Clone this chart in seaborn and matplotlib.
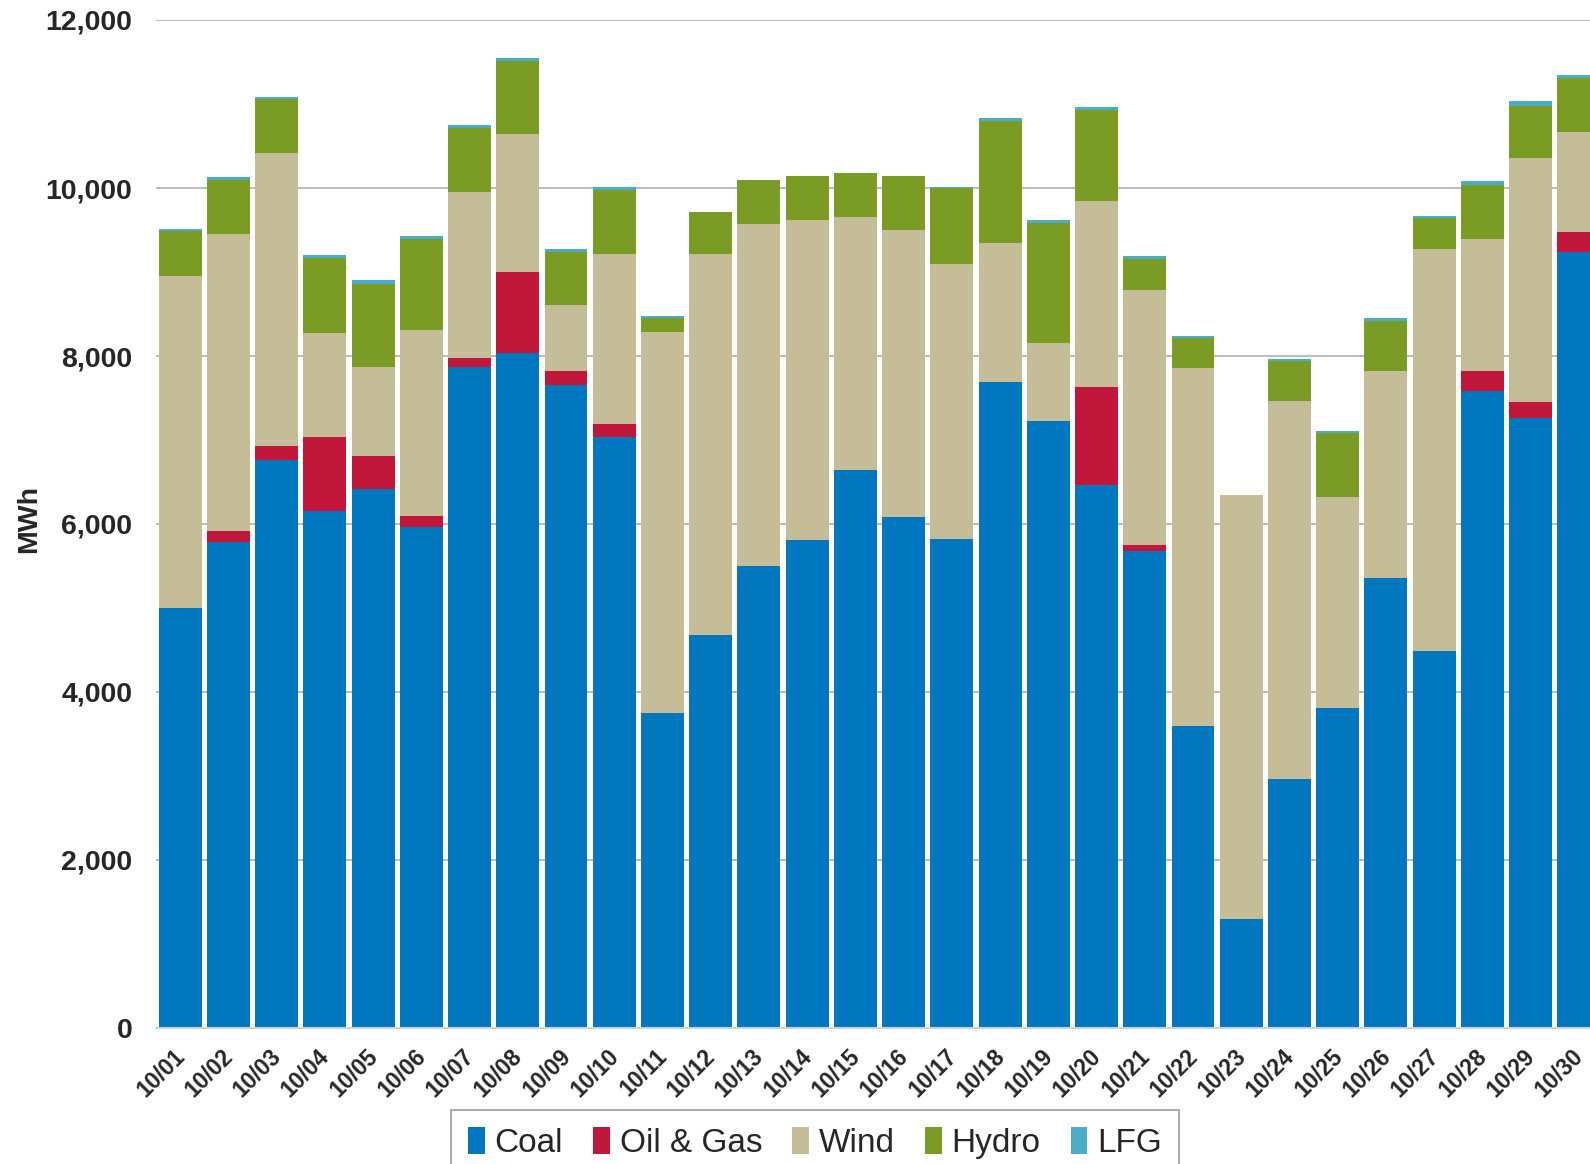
import matplotlib
matplotlib.use("Agg")
import numpy as np
import pandas as pd
import matplotlib.pyplot as plt
import matplotlib.transforms as mtransforms
import seaborn as sns
from matplotlib.patches import Patch
from matplotlib.ticker import MultipleLocator, FuncFormatter

# daily generation by fuel, MWh
days = ["10/01", "10/02", "10/03", "10/04", "10/05", "10/06", "10/07", "10/08",
        "10/09", "10/10", "10/11", "10/12", "10/13", "10/14", "10/15", "10/16",
        "10/17", "10/18", "10/19", "10/20", "10/21", "10/22", "10/23", "10/24",
        "10/25", "10/26", "10/27", "10/28", "10/29", "10/30"]
coal = [5000, 5790, 6760, 6160, 6420, 5960, 7875, 8040, 7650, 7040,
        3750, 4680, 5500, 5810, 6640, 6080, 5820, 7685, 7225, 6460,
        5675, 3600, 1300, 2970, 3815, 5360, 4490, 7585, 7260, 9240]
oil_gas = [0, 125, 170, 880, 390, 135, 105, 960, 170, 150,
           0, 0, 0, 0, 0, 0, 0, 0, 0, 1170,
           80, 0, 0, 0, 0, 0, 0, 238, 190, 235]
wind = [3950, 3535, 3490, 1230, 1060, 2210, 1975, 1640, 790, 2030,
        4535, 4540, 4070, 3810, 3015, 3420, 3270, 1660, 925, 2210,
        3025, 4255, 5040, 4495, 2510, 2460, 4785, 1570, 2905, 1190]
hydro = [540, 640, 640, 900, 990, 1090, 760, 870, 625, 760,
         170, 495, 520, 520, 520, 640, 905, 1450, 1435, 1090,
         375, 365, 0, 480, 755, 600, 373, 643, 627, 640]
lfg = [20, 36, 25, 35, 40, 35, 35, 35, 35, 35,
       20, 0, 0, 0, 0, 0, 20, 35, 35, 35,
       35, 20, 0, 20, 28, 35, 20, 48, 56, 40]

fuels = ["Coal", "Oil & Gas", "Wind", "Hydro", "LFG"]
colors = ["#0077BF", "#C0173B", "#C4BD97", "#7A9B24", "#4BACC6"]

df = pd.DataFrame({"Day": days, "Coal": coal, "Oil & Gas": oil_gas,
                   "Wind": wind, "Hydro": hydro, "LFG": lfg})
cum = df[fuels].cumsum(axis=1)

sns.set_style("white")
plt.rcParams["font.family"] = ["Liberation Sans", "DejaVu Sans"]

fig = plt.figure(figsize=(15.9, 11.64), dpi=100)
ax = fig.add_axes([156 / 1590, 136 / 1164, 1447 / 1590, 1008 / 1164])

# stacked bars: draw cumulative totals from the top layer down
for fuel, col in reversed(list(zip(fuels, colors))):
    sns.barplot(x=df["Day"], y=cum[fuel], color=col, saturation=1,
                width=0.89, errorbar=None, linewidth=0, ax=ax)

ax.set_xlim(-0.5, 29.5)
ax.set_ylim(0, 12000)
ax.yaxis.set_major_locator(MultipleLocator(2000))
ax.yaxis.set_major_formatter(FuncFormatter(lambda v, p: f"{int(v):,}"))
ax.grid(axis="y", color="#b0b0b0", linewidth=1.2)
ax.grid(axis="x", visible=False)
ax.set_axisbelow(True)

for s in ["left", "right", "top"]:
    ax.spines[s].set_visible(False)
ax.spines["bottom"].set_color("#d0d0d0")
ax.spines["bottom"].set_linewidth(1.5)

ax.tick_params(axis="y", length=0, pad=17, labelsize=20.5)
for lab in ax.get_yticklabels():
    lab.set_fontweight("bold")

ax.set_xticks(range(len(days)))
ax.set_xticklabels(days, rotation=45, ha="right", va="top",
                   rotation_mode="anchor", fontsize=16.5, fontweight="bold")
ax.tick_params(axis="x", which="major", length=0, pad=12)
ax.set_xticks(np.arange(-0.5, len(days), 1), minor=True)
ax.tick_params(axis="x", which="minor", length=7, width=1.5, color="#d0d0d0")
shift = mtransforms.ScaledTranslation(-7 / 100, 0, fig.dpi_scale_trans)
for lab in ax.get_xticklabels():
    lab.set_transform(lab.get_transform() + shift)

ax.set_xlabel("")
ax.set_ylabel("MWh", fontsize=20.5, fontweight="bold")
ax.yaxis.set_label_coords(-0.079, 0.505)

handles = [Patch(facecolor=c, edgecolor="none") for c in colors]
leg = fig.legend(handles, fuels, loc="upper center",
                 bbox_to_anchor=(815 / 1590, 1 - 1110 / 1164), ncol=5,
                 frameon=True, fancybox=False, edgecolor="#999999",
                 fontsize=24, handlelength=0.5, handleheight=0.9,
                 handletextpad=0.3, columnspacing=0.9, borderpad=0.5,
                 borderaxespad=0)
leg.get_frame().set_linewidth(1.5)

fig.savefig("out.png", dpi=100)
